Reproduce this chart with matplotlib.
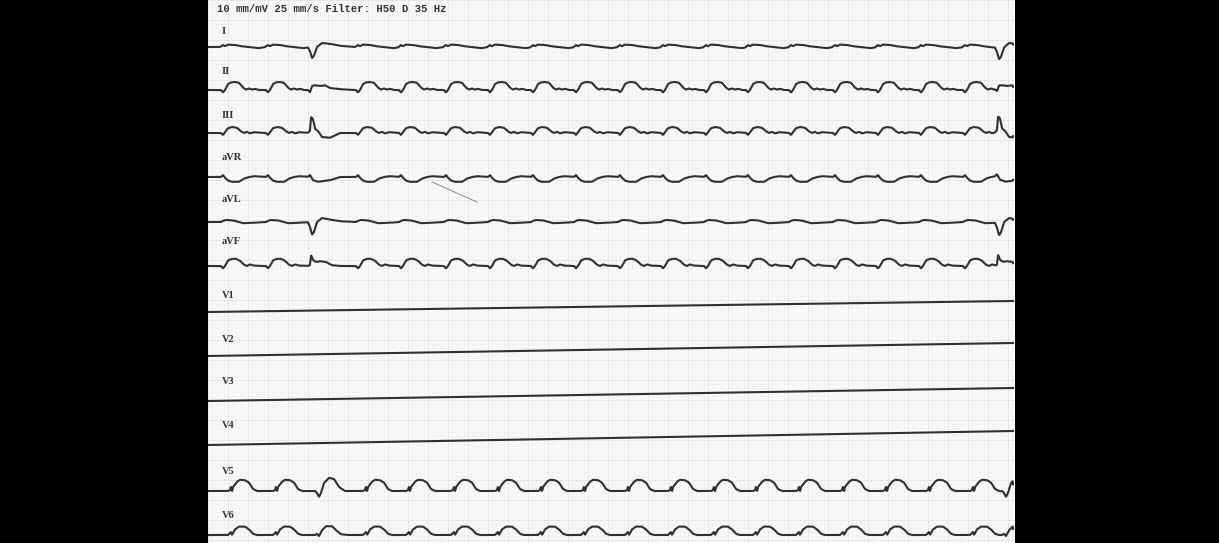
import numpy as np
import matplotlib
matplotlib.use("Agg")
import matplotlib.pyplot as plt
from matplotlib.ticker import MultipleLocator

# ==============================
# RECORDING DATA
# ==============================

HEADER = "10 mm/mV 25 mm/s Filter: H50 D 35 Hz"
LEADS = ["I", "II", "III", "aVR", "aVL", "aVF", "V1", "V2", "V3", "V4", "V5", "V6"]

# QRS times (s) on the limb leads, the chest leads run a bit later
beat_times = [0.15, 0.60, 1.02, 1.50, 1.93, 2.38, 2.82, 3.25, 3.68, 4.12,
              4.55, 4.98, 5.40, 5.83, 6.27, 6.70, 7.13, 7.57, 7.89]
beat_kind = ["N", "N", "V", "N", "N", "N", "N", "N", "N", "N",
             "N", "N", "N", "N", "N", "N", "N", "N", "V"]
chest_delay = 0.07

# beat shapes: time from QRS (s) and amplitude (mV)
I_N_t = [-0.03, 0.0, 0.02, 0.05, 0.12, 0.18, 0.25, 0.35, 0.43]
I_N_v = [0.0, 0.05, 0.02, 0.06, 0.05, 0.02, 0.0, -0.03, 0.0]
I_V_t = [-0.02, 0.0, 0.02, 0.04, 0.07, 0.12, 0.20, 0.30, 0.45]
I_V_v = [0.0, -0.10, -0.28, -0.22, 0.0, 0.10, 0.08, 0.03, 0.0]

II_N_t = [-0.02, 0.0, 0.02, 0.05, 0.08, 0.12, 0.16, 0.20, 0.23, 0.26, 0.29, 0.32, 0.36, 0.43]
II_N_v = [0.0, -0.06, 0.0, 0.15, 0.19, 0.20, 0.18, 0.06, 0.01, 0.04, 0.01, 0.03, 0.0, 0.0]
II_V_t = [-0.02, 0.0, 0.02, 0.05, 0.10, 0.15, 0.20, 0.30, 0.45]
II_V_v = [0.0, -0.06, 0.10, 0.12, 0.10, 0.12, 0.05, 0.02, 0.0]

III_N_t = [-0.02, 0.0, 0.02, 0.05, 0.09, 0.14, 0.18, 0.21, 0.24, 0.27, 0.31, 0.43]
III_N_v = [0.0, -0.05, 0.02, 0.12, 0.15, 0.13, 0.04, 0.0, 0.03, -0.01, 0.02, 0.0]
III_V_t = [-0.02, 0.0, 0.01, 0.03, 0.05, 0.08, 0.12, 0.20, 0.30, 0.45]
III_V_v = [0.0, 0.05, 0.40, 0.35, 0.10, 0.05, -0.10, -0.12, 0.0, 0.0]

aVR_N_t = [-0.02, 0.0, 0.02, 0.05, 0.09, 0.16, 0.21, 0.26, 0.31, 0.43]
aVR_N_v = [0.0, 0.05, -0.02, -0.09, -0.12, -0.12, -0.04, 0.0, 0.02, 0.0]
aVR_V_t = [-0.02, 0.0, 0.03, 0.08, 0.20, 0.30, 0.45]
aVR_V_v = [0.0, 0.05, -0.08, -0.12, -0.08, 0.0, 0.0]

aVL_N_t = [-0.02, 0.0, 0.03, 0.10, 0.20, 0.30, 0.43]
aVL_N_v = [0.0, 0.03, 0.05, 0.04, -0.03, -0.02, 0.0]
aVL_V_t = [-0.02, 0.0, 0.02, 0.04, 0.07, 0.12, 0.20, 0.30, 0.45]
aVL_V_v = [0.0, -0.12, -0.32, -0.25, 0.0, 0.10, 0.06, 0.02, 0.0]

aVF_N_t = [-0.02, 0.0, 0.02, 0.05, 0.09, 0.13, 0.17, 0.21, 0.24, 0.27, 0.31, 0.43]
aVF_N_v = [0.0, -0.06, 0.0, 0.14, 0.18, 0.18, 0.13, 0.03, 0.0, 0.04, 0.01, 0.0]
aVF_V_t = [-0.02, 0.0, 0.01, 0.03, 0.06, 0.10, 0.16, 0.22, 0.30, 0.45]
aVF_V_v = [0.0, 0.02, 0.28, 0.15, 0.10, 0.12, 0.10, 0.02, 0.0, 0.0]

V5_N_t = [-0.02, 0.0, 0.01, 0.02, 0.03, 0.07, 0.10, 0.15, 0.19, 0.23, 0.27, 0.43]
V5_N_v = [0.0, 0.02, 0.12, -0.02, 0.10, 0.23, 0.28, 0.27, 0.21, 0.05, 0.0, 0.0]
V5_V_t = [-0.02, 0.0, 0.02, 0.04, 0.07, 0.12, 0.17, 0.22, 0.28, 0.45]
V5_V_v = [0.0, -0.05, -0.15, -0.05, 0.20, 0.33, 0.30, 0.10, 0.0, 0.0]

V6_N_t = [-0.02, 0.0, 0.01, 0.02, 0.05, 0.09, 0.15, 0.19, 0.23, 0.27, 0.43]
V6_N_v = [0.0, 0.05, 0.08, 0.0, 0.14, 0.21, 0.21, 0.14, 0.03, 0.0, 0.0]
V6_V_t = [-0.02, 0.0, 0.02, 0.05, 0.09, 0.15, 0.19, 0.24, 0.30, 0.45]
V6_V_v = [0.0, 0.03, -0.03, 0.12, 0.22, 0.22, 0.12, 0.02, 0.0, 0.0]

# V1-V4 are flat lines that drift upward across the strip (mV at start / end)
flat_start = [-7.80, -8.90, -10.025, -11.125]
flat_end = [-7.525, -8.575, -9.70, -10.775]

# pen scratch across aVR
scratch_t = [2.24, 2.69]
scratch_v = [-4.55, -5.05]

# ==============================
# LAYOUT
# ==============================

PAPER_LEN = 8.07        # seconds shown on the strip
PAPER_H = 13.575        # mV from top to bottom
baseline = {"I": -1.175, "II": -2.25, "III": -3.325, "aVR": -4.425,
            "aVL": -5.55, "aVF": -6.65, "V5": -12.275, "V6": -13.375}
label_y = [-0.80, -1.80, -2.875, -3.925, -4.975, -6.025,
           -7.40, -8.475, -9.55, -10.625, -11.80, -12.90]

shapes = {
    "I": (I_N_t, I_N_v, I_V_t, I_V_v),
    "II": (II_N_t, II_N_v, II_V_t, II_V_v),
    "III": (III_N_t, III_N_v, III_V_t, III_V_v),
    "aVR": (aVR_N_t, aVR_N_v, aVR_V_t, aVR_V_v),
    "aVL": (aVL_N_t, aVL_N_v, aVL_V_t, aVL_V_v),
    "aVF": (aVF_N_t, aVF_N_v, aVF_V_t, aVF_V_v),
    "V5": (V5_N_t, V5_N_v, V5_V_t, V5_V_v),
    "V6": (V6_N_t, V6_N_v, V6_V_t, V6_V_v),
}

t = np.arange(0.0, PAPER_LEN - 0.02, 0.002)
pen = np.hanning(7)
pen = pen / pen.sum()


def build_trace(lead):
    nt, nv, vt, vv = shapes[lead]
    shift = chest_delay if lead.startswith("V") else 0.0
    sig = np.zeros_like(t)
    for bt, kind in zip(beat_times, beat_kind):
        tt, vals = (nt, nv) if kind == "N" else (vt, vv)
        sig += np.interp(t - (bt + shift), tt, vals, left=0.0, right=0.0)
    # soften the corners a little, like the pen on the paper
    return np.convolve(sig, pen, mode="same")


fig = plt.figure(figsize=(12.19, 5.43), dpi=100, facecolor="black")
ax = fig.add_axes([208 / 1219, 0.0, 807 / 1219, 1.0])
ax.set_facecolor("#f9f9f9")
ax.set_xlim(0, PAPER_LEN)
ax.set_ylim(-PAPER_H, 0)

# ECG paper grid
ax.xaxis.set_major_locator(MultipleLocator(0.2))
ax.xaxis.set_minor_locator(MultipleLocator(0.04))
ax.yaxis.set_major_locator(MultipleLocator(0.5))
ax.yaxis.set_minor_locator(MultipleLocator(0.1))
ax.tick_params(which="both", length=0, labelbottom=False, labelleft=False)
ax.grid(which="major", color="#e4e4e4", linewidth=0.6)
ax.grid(which="minor", color="#f1f1f1", linewidth=0.4)
ax.set_axisbelow(True)
for sp in ax.spines.values():
    sp.set_visible(False)

trace_color = "#303030"

for lead in shapes:
    ax.plot(t, baseline[lead] + build_trace(lead), color=trace_color, lw=1.5,
            solid_joinstyle="round", solid_capstyle="round")

for i in range(4):
    ax.plot([0, PAPER_LEN - 0.02], [flat_start[i], flat_end[i]],
            color=trace_color, lw=1.5)

ax.plot(scratch_t, scratch_v, color="#8a8a8a", lw=0.7)

for name, ly in zip(LEADS, label_y):
    ax.text(0.14, ly, name, fontsize=7.5, family="Liberation Serif",
            fontweight="bold", color="#333333", va="center", ha="left")

ax.text(0.09, -0.22, HEADER, fontsize=7.7, family="Liberation Mono",
        fontweight="bold", color="#333333", va="center", ha="left")

fig.savefig("out.png", dpi=100, facecolor="black")
